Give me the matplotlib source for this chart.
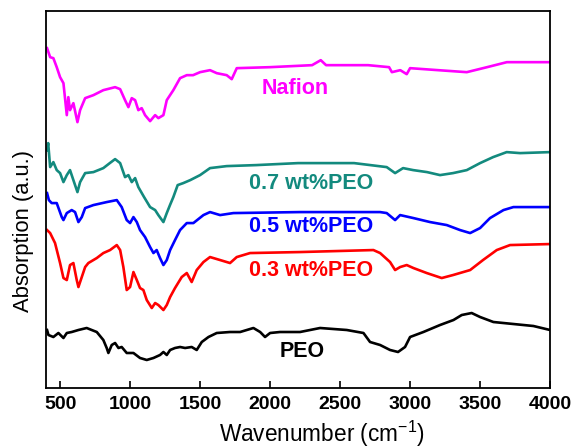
import numpy as np
import matplotlib
matplotlib.use('Agg')
import matplotlib.pyplot as plt

plt.rcParams['font.family'] = ['Liberation Sans', 'DejaVu Sans']

nafion_wn = [407, 429, 452, 476, 500, 524, 548, 559, 571, 595, 624, 643, 679, 738, 809, 893, 929, 964,
             988, 1012, 1036, 1059, 1083, 1107, 1143, 1179, 1202, 1238, 1262, 1309, 1357, 1405, 1450,
             1500, 1571, 1619, 1690, 1726, 1762, 2000, 2300, 2362, 2400, 2700, 2850, 2870, 2930, 2976,
             3000, 3200, 3405, 3550, 3691, 4000]
nafion_ab = [340, 331, 330, 321, 311, 305, 273, 291, 278, 285, 266, 278, 290, 293, 298, 301, 299, 288,
             281, 290, 288, 278, 280, 273, 267, 273, 270, 273, 288, 298, 310, 313, 313,
             316, 318, 315, 313, 309, 320, 321, 323, 328, 323, 323, 321, 316, 318, 314,
             320, 318, 316, 321, 326, 326]

peo07_wn = [407, 415, 429, 452, 476, 500, 524, 548, 571, 595, 624, 643, 679, 738, 809, 855, 893, 929,
            964, 988, 1012, 1036, 1059, 1100, 1143, 1179, 1202, 1238, 1262, 1285, 1309, 1340, 1380,
            1430, 1500, 1571, 1690, 1900, 2200, 2600, 2833, 2893, 2950, 3022, 3121, 3214, 3307, 3405,
            3500, 3593, 3690, 3786, 4000]
peo07_ab = [238, 245, 221, 226, 218, 215, 206, 213, 218, 208, 196, 206, 215, 216, 220, 225, 229, 225,
            211, 213, 206, 210, 201, 191, 181, 178, 173, 166, 175, 183, 191, 203, 205,
            208, 213, 220, 222, 223, 225, 225, 221, 215, 220, 218, 216, 213, 215, 218,
            225, 231, 236, 235, 236]

peo05_wn = [407, 420, 440, 476, 512, 524, 548, 583, 607, 631, 655, 679, 738, 833, 905, 940, 976, 1000,
            1024, 1048, 1071, 1107, 1143, 1167, 1190, 1214, 1238, 1262, 1286, 1321, 1357, 1405, 1452,
            1524, 1571, 1643, 1738, 2214, 2786, 2833, 2893, 2929, 3024, 3143, 3262, 3357, 3429, 3500,
            3571, 3667, 3738, 4000]
peo05_ab = [195, 188, 185, 185, 171, 168, 175, 178, 176, 166, 171, 180, 183, 186, 188, 181, 168, 165,
            171, 166, 158, 151, 141, 135, 138, 130, 123, 128, 138, 148, 158, 165, 165,
            173, 176, 173, 175, 176, 176, 175, 168, 173, 170, 166, 163, 158, 155, 160,
            170, 178, 181, 181]

peo03_wn = [407, 429, 464, 500, 524, 548, 571, 595, 619, 631, 655, 679, 702, 762, 809, 857, 905, 929,
            952, 976, 1000, 1024, 1048, 1071, 1095, 1119, 1155, 1179, 1202, 1238, 1262, 1286, 1321,
            1369, 1405, 1440, 1476, 1524, 1571, 1643, 1714, 1762, 1857, 2214, 2738, 2786, 2857, 2893,
            2929, 2976, 3024, 3119, 3226, 3307, 3429, 3521, 3619, 3714, 4000]
peo03_ab = [158, 155, 145, 125, 110, 108, 123, 125, 108, 101, 111, 121, 125, 130, 135, 138, 143, 138,
            121, 98, 101, 116, 108, 100, 98, 88, 80, 85, 83, 78, 83, 91, 100,
            111, 115, 106, 118, 126, 131, 128, 125, 131, 135, 136, 138, 135, 126, 118,
            121, 123, 120, 115, 110, 113, 118, 128, 138, 143, 144]

peo_wn = [407, 417, 452, 488, 524, 548, 583, 631, 690, 762, 809, 833, 845, 869, 893, 917, 940, 976,
          1024, 1071, 1119, 1167, 1214, 1238, 1262, 1286, 1321, 1357, 1393, 1440, 1476, 1512, 1560,
          1619, 1714, 1786, 1881, 1929, 1964, 2000, 2071, 2214, 2357, 2548, 2667, 2714, 2786, 2857,
          2914, 2964, 3000, 3095, 3214, 3310, 3369, 3440, 3500, 3595, 3738, 3881, 4000]
peo_ab = [58, 53, 51, 55, 50, 55, 56, 58, 60, 56, 48, 40, 35, 43, 45, 40, 41, 35,
          35, 30, 28, 30, 33, 36, 33, 38, 40, 41, 40, 41, 38, 46, 51,
          55, 56, 56, 60, 56, 51, 55, 56, 56, 60, 58, 55, 46, 43, 38,
          36, 41, 51, 56, 63, 68, 73, 75, 71, 66, 64, 62, 58]

series = [
    (nafion_wn, nafion_ab, '#FF00FF', 'Nafion', 2180, 300),
    (peo07_wn, peo07_ab, '#138A7E', '0.7 wt%PEO', 2290, 205),
    (peo05_wn, peo05_ab, '#0000FF', '0.5 wt%PEO', 2290, 162),
    (peo03_wn, peo03_ab, '#FF0000', '0.3 wt%PEO', 2290, 118),
    (peo_wn, peo_ab, '#000000', 'PEO', 2230, 36),
]

fig = plt.figure(figsize=(5.76, 4.48), dpi=100)
ax = fig.add_axes([0.080, 0.134, 0.875, 0.841])

for wn, ab, col, label, lx, ly in series:
    ax.plot(wn, ab, color=col, lw=1.9)
    ax.text(lx, ly, label, color=col, fontsize=15.5, fontweight='bold',
            ha='center', va='center')

ax.set_xlim(400, 4000)
ax.set_ylim(0, 377)
ax.set_xticks([500, 1000, 1500, 2000, 2500, 3000, 3500, 4000])
ax.set_yticks([])
ax.tick_params(axis='x', direction='in', length=5, width=1.2, labelsize=14, pad=6)
for lab in ax.get_xticklabels():
    lab.set_fontweight('bold')
for sp in ax.spines.values():
    sp.set_linewidth(1.3)

ax.set_xlabel('Wavenumber (cm$^{\\mathregular{-1}}$)', fontsize=16.3)
ax.set_ylabel('Absorption (a.u.)', fontsize=15.8)
ax.xaxis.set_label_coords(0.548, -0.082)
ax.yaxis.set_label_coords(-0.024, 0.416)

fig.savefig('out.png', dpi=100)
